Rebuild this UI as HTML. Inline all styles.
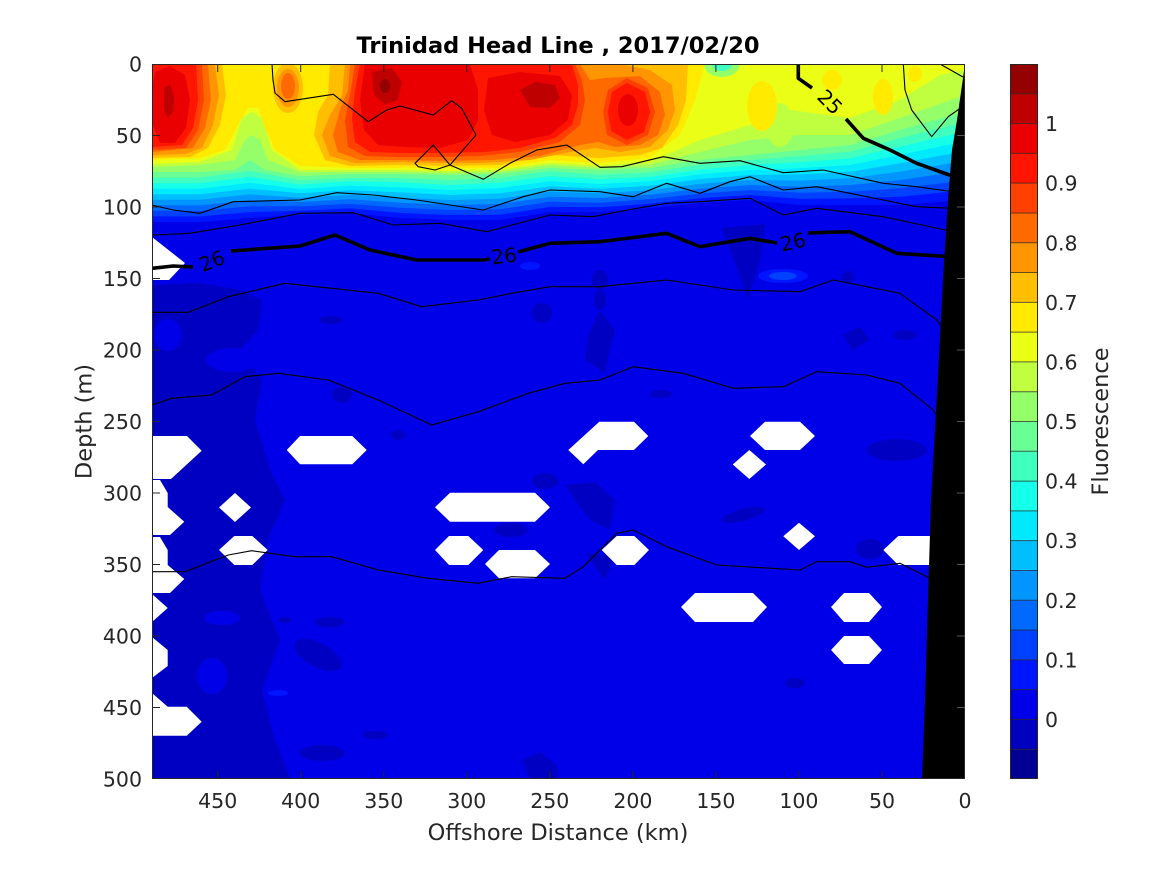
<!DOCTYPE html>
<html>
<head>
<meta charset="utf-8">
<style>
html,body{margin:0;padding:0;background:#fff;}
svg{display:block;}
text{font-family:"DejaVu Sans","Liberation Sans",sans-serif;}
</style>
</head>
<body>
<svg width="1167" height="875" viewBox="0 0 1167 875" xmlns="http://www.w3.org/2000/svg">
<defs>
<clipPath id="pc"><rect x="152" y="64" width="813" height="715"/></clipPath>
</defs>
<rect x="0" y="0" width="1167" height="875" fill="#fff"/>

<g clip-path="url(#pc)">
<!-- base deep blue -->
<rect x="152" y="64" width="813" height="715" fill="rgb(0,0,232)"/>

<!-- dark deep patches -->
<g fill="rgb(0,0,195)">
<path d="M152,285 L200,283 L240,290 L262,300 L258,330 L240,350 L262,380 L255,420 L270,470 L285,500 L268,540 L260,590 L280,640 L262,690 L275,740 L290,778 L152,778 Z"/>
<ellipse cx="318" cy="655" rx="26" ry="12" transform="rotate(28 318 655)"/>
<ellipse cx="330" cy="622" rx="15" ry="5"/>
<ellipse cx="322" cy="753" rx="23" ry="8"/>
<ellipse cx="375" cy="735" rx="13" ry="4"/>
<path d="M522,760 L540,752 L556,765 L558,778 L530,778 Z"/>
<ellipse cx="285" cy="620" rx="7" ry="3"/>
<path d="M722,228 L765,224 L760,260 L748,300 L735,262 Z"/>
<ellipse cx="600" cy="280" rx="8" ry="10"/>
<ellipse cx="848" cy="277" rx="6" ry="6"/>
<path d="M600,310 L615,330 L610,350 L605,373 L585,360 L588,335 Z"/>
<path d="M843,335 L860,327 L870,340 L852,350 Z"/>
<ellipse cx="905" cy="335" rx="12" ry="5"/>
<ellipse cx="897" cy="450" rx="30" ry="11"/>
<path d="M565,485 L595,482 L615,500 L610,530 L590,520 L575,500 Z"/>
<ellipse cx="743" cy="515" rx="22" ry="6" transform="rotate(-15 743 515)"/>
<ellipse cx="661" cy="394" rx="11" ry="4"/>
<path d="M585,553 L615,556 L605,580 Z"/>
<ellipse cx="870" cy="549" rx="14" ry="10"/>
<ellipse cx="331" cy="320" rx="12" ry="4"/>
<ellipse cx="342" cy="395" rx="10" ry="8"/>
<ellipse cx="398" cy="435" rx="7" ry="5"/>
<ellipse cx="542" cy="313" rx="10" ry="10"/>
<ellipse cx="545" cy="481" rx="13" ry="8"/>
<ellipse cx="511" cy="530" rx="17" ry="7"/>
<ellipse cx="795" cy="683" rx="10" ry="5"/>
<ellipse cx="600" cy="300" rx="6" ry="10"/>
</g>
<g fill="rgb(0,0,232)">
<ellipse cx="212" cy="676" rx="15" ry="18"/>
<ellipse cx="222" cy="618" rx="18" ry="7"/>
<ellipse cx="168" cy="335" rx="14" ry="16"/>
<ellipse cx="232" cy="360" rx="26" ry="12"/>
</g>
<g fill="rgb(0,21,255)">
<ellipse cx="783" cy="276" rx="25" ry="7"/>
<ellipse cx="530" cy="266" rx="10" ry="4"/>
<ellipse cx="278" cy="693" rx="10" ry="3"/>
</g>
<ellipse cx="783" cy="276" rx="14" ry="4" fill="rgb(0,64,255)"/>

<!-- stratified bands -->
<path fill="rgb(0,21,255)" d="M152,64 L965,64 L965,200 L900,205 L850,205 L800,205 L750,200 L700,203 L650,208 L600,212 L550,212 L500,220 L450,220 L400,218 L350,213 L300,215 L250,218 L200,222 L152,222 Z"/>
<path fill="rgb(0,64,255)" d="M152,64 L965,64 L965,190.2 L900,196.7 L850,198.3 L800,198.9 L750,195 L700,198.2 L650,203.6 L600,207.3 L550,206.9 L500,214.7 L450,215 L400,212.9 L350,208.4 L300,210.7 L250,212.1 L200,216.4 L152,216.4 Z"/>
<path fill="rgb(0,106,255)" d="M152,64 L965,64 L965,180.4 L900,188.3 L850,191.7 L800,192.8 L750,190 L700,193.5 L650,199.1 L600,202.7 L550,201.8 L500,209.3 L450,210 L400,207.8 L350,203.9 L300,206.3 L250,206.2 L200,210.9 L152,210.9 Z"/>
<path fill="rgb(0,149,255)" d="M152,64 L965,64 L965,170.7 L900,180 L850,185 L800,186.7 L750,185 L700,188.7 L650,194.7 L600,198 L550,196.7 L500,204 L450,205 L400,202.7 L350,199.3 L300,202 L250,200.3 L200,205.3 L152,205.3 Z"/>
<path fill="rgb(0,191,255)" d="M152,64 L965,64 L965,160.9 L900,171.7 L850,178.3 L800,180.6 L750,180 L700,183.9 L650,190.2 L600,193.3 L550,191.6 L500,198.7 L450,200 L400,197.6 L350,194.8 L300,197.7 L250,194.4 L200,199.8 L152,199.8 Z"/>
<path fill="rgb(0,234,255)" d="M152,64 L965,64 L965,151.1 L900,163.3 L850,171.7 L800,174.4 L750,175 L700,179.1 L650,185.8 L600,188.7 L550,186.4 L500,193.3 L450,195 L400,192.4 L350,190.2 L300,193.3 L250,188.6 L200,194.2 L152,194.2 Z"/>
<path fill="rgb(21,255,234)" d="M152,64 L965,64 L965,141.3 L900,155 L850,165 L800,168.3 L750,170 L700,174.3 L650,181.3 L600,184 L550,181.3 L500,188 L450,190 L400,187.3 L350,185.7 L300,189 L250,182.7 L200,188.7 L152,188.7 Z"/>
<path fill="rgb(64,255,191)" d="M152,64 L965,64 L965,131.6 L900,146.7 L850,158.3 L800,162.2 L750,165 L700,169.6 L650,176.9 L600,179.3 L550,176.2 L500,182.7 L450,185 L400,182.2 L350,181.1 L300,184.7 L250,176.8 L200,183.1 L152,183.1 Z"/>
<path fill="rgb(106,255,149)" d="M152,64 L965,64 L965,121.8 L900,138.3 L850,151.7 L800,156.1 L750,160 L700,164.8 L650,172.4 L600,174.7 L550,171.1 L500,178 L450,180 L400,178 L350,178 L300,180.3 L250,170.9 L200,177.6 L152,177.6 Z"/>
<path fill="rgb(149,255,106)" d="M152,64 L965,64 L965,112 L900,130 L850,145 L800,150 L750,155 L700,160 L650,168 L600,170 L550,168 L500,174 L450,175 L400,174 L350,174 L300,176 L265,170 L250,160 L235,170 L200,172 L152,172 Z"/>
<path fill="rgb(191,255,64)" d="M152,64 L965,64 L965,95 L900,118 L850,135 L800,135 L750,140 L700,152 L650,165 L600,168 L550,165 L500,172 L450,173 L400,172 L350,172 L300,172 L268,160 L260,140 L252,135 L245,140 L235,160 L200,165 L152,167 Z"/>
<path fill="rgb(234,255,21)" d="M152,64 L965,64 L965,70 L940,75 L900,100 L850,118 L790,110 L750,125 L700,140 L650,162 L600,166 L550,163 L500,170 L450,171 L400,170 L350,170 L300,170 L272,150 L262,118 L252,112 L242,118 L232,150 L200,162 L152,164 Z"/>
<!-- small green patch at top -->
<ellipse cx="722" cy="64" rx="18" ry="13" fill="rgb(149,255,106)"/>
<ellipse cx="722" cy="64" rx="10" ry="7" fill="rgb(64,255,191)"/>
<ellipse cx="780" cy="125" rx="14" ry="22" fill="rgb(191,255,64)"/>

<!-- yellow -->
<g fill="rgb(255,234,0)">
<path d="M152,64 L705,64 L695,100 L680,135 L650,158 L600,163 L550,160 L500,168 L450,168 L400,168 L350,168 L300,166 L275,150 L266,130 L258,108 L248,108 L238,125 L225,150 L200,158 L152,160 Z"/>
<ellipse cx="762" cy="106" rx="15" ry="25"/>
<ellipse cx="832" cy="80" rx="10" ry="10"/>
<ellipse cx="883" cy="97" rx="10" ry="18"/>
<ellipse cx="915" cy="74" rx="7" ry="8"/>
</g>
<!-- oranges -->
<g fill="rgb(255,191,0)">
<path d="M152,64 L222,64 L226,95 L220,125 L208,148 L190,157 L152,158 Z"/>
<ellipse cx="288" cy="88" rx="15" ry="25"/>
<path d="M330,64 L688,64 L686,100 L678,125 L662,148 L640,155 L600,158 L550,155 L500,165 L450,166 L400,165 L350,166 L325,160 L314,135 L318,112 L328,95 Z"/>
</g>
<g fill="rgb(255,149,0)">
<path d="M152,64 L215,64 L219,95 L213,125 L202,148 L185,154 L152,155 Z"/>
<ellipse cx="288" cy="88" rx="11" ry="19"/>
<path d="M345,64 L620,64 L650,70 L672,85 L675,110 L668,130 L650,147 L620,152 L595,148 L570,152 L530,160 L480,163 L440,163 L400,162 L355,163 L330,156 L322,135 L330,115 L342,95 Z"/>
</g>
<g fill="rgb(255,106,0)">
<path d="M152,64 L208,64 L211,100 L205,128 L193,148 L152,152 Z"/>
<ellipse cx="288" cy="86" rx="7" ry="13"/>
<path d="M350,64 L580,64 L590,80 L605,78 L640,76 L660,92 L665,115 L658,135 L640,145 L615,147 L598,142 L580,145 L540,156 L490,160 L440,161 L400,160 L360,160 L338,152 L333,135 L340,110 L348,90 Z"/>
</g>
<g fill="rgb(255,64,0)">
<path d="M152,64 L202,64 L204,100 L198,130 L186,148 L152,150 Z"/>
<path d="M355,64 L575,64 L582,80 L585,100 L580,125 L560,142 L520,152 L480,156 L440,157 L400,157 L365,156 L348,147 L345,120 L350,95 Z"/>
<path d="M603,112 L608,90 L627,78 L648,88 L655,112 L648,135 L627,145 L607,135 Z"/>
</g>
<g fill="rgb(255,21,0)">
<path d="M152,64 L196,64 L198,100 L193,128 L182,145 L152,147 Z"/>
<path d="M360,64 L572,64 L578,85 L578,105 L572,125 L555,138 L520,148 L485,152 L445,153 L405,153 L370,152 L355,142 L352,118 L355,90 Z"/>
<path d="M608,112 L612,92 L627,83 L645,92 L650,112 L644,132 L627,140 L611,131 Z"/>
</g>
<g fill="rgb(234,0,0)">
<path d="M365,64 L470,64 L478,90 L478,120 L468,140 L440,148 L405,147 L378,145 L364,130 L360,100 Z"/>
<path d="M488,78 L520,72 L560,76 L572,95 L568,120 L550,135 L515,142 L492,135 L484,110 Z"/>
<ellipse cx="628" cy="110" rx="10" ry="16"/>
<path d="M155,72 L170,66 L185,75 L190,100 L186,128 L175,143 L160,143 L153,125 L152,90 Z"/>
</g>
<g fill="rgb(191,0,0)">
<path d="M372,72 L392,68 L402,82 L398,100 L385,104 L374,95 Z"/>
<path d="M520,90 L535,82 L555,85 L560,98 L550,108 L530,107 Z"/>
<path d="M164,88 L170,84 L174,95 L173,112 L168,118 L164,110 Z"/>
</g>
<ellipse cx="385" cy="86" rx="5" ry="7" fill="rgb(149,0,0)"/>

<!-- NaN (white) regions -->
<g fill="#fff">
<path d="M152,237 L185,263 L169,280 L152,280 Z"/>
<path d="M152,436 L187,436 L201.7,450.7 L171,479 L152,479 Z"/>
<path d="M286.7,450 L300,436 L352.3,436 L366.7,450 L352.3,464.3 L300,464.3 Z"/>
<path d="M152,480 L160,480 L167.7,493 L167.7,507 L184.3,521.7 L170,535 L152,535 Z"/>
<path d="M219,507.5 L235,493 L251,507.5 L235,522 Z"/>
<path d="M435,507.3 L450,492.7 L535,492.7 L550,507.3 L535,521.7 L450,521.7 Z"/>
<path d="M152,537 L160,537 L167.7,550 L167.7,565 L184.3,579 L170,593 L152,593 Z"/>
<path d="M219,550 L234.3,536 L252.3,536 L267.7,550 L252.3,565 L234.3,565 Z"/>
<path d="M435,550 L449,536 L468.3,536 L483.3,550 L468.3,565 L449,565 Z"/>
<path d="M485,564 L499,550 L535,550 L550,564 L535,578.3 L499,578.3 Z"/>
<path d="M152,594 L167.7,608 L152,622 Z"/>
<path d="M152,637 L167.7,650 L167.7,666 L152,678 Z"/>
<path d="M152,693 L167.7,706.7 L186.7,706.7 L201.7,721.7 L186.7,735.7 L152,735.7 Z"/>
<path d="M568.3,450 L599.3,421.7 L634,421.7 L648.3,436 L634,450 L598,450 L583.3,464.3 Z"/>
<path d="M750,436 L765,421.7 L800,421.7 L815,436 L800,450 L765,450 Z"/>
<path d="M732.7,464.5 L749.3,450 L766,464.5 L749.3,479 Z"/>
<path d="M601.7,550 L616.7,536 L634.3,536 L649,550 L634.3,565 L616.7,565 Z"/>
<path d="M783.3,536.3 L799,522.7 L815,536.3 L799,550 Z"/>
<path d="M883.3,550 L898.3,536 L940,536 L940,565 L898.3,565 Z"/>
<path d="M681,607 L695,593 L753,593 L767,607 L753,622 L695,622 Z"/>
<path d="M831,607 L844,593 L869,593 L882,607 L869,622 L844,622 Z"/>
<path d="M831,650 L844,636 L869,636 L882,650 L869,664 L844,664 Z"/>
</g>

<!-- thin contour lines -->
<g fill="none" stroke="#000" stroke-width="1.1" stroke-linejoin="round">
<polyline points="272,64 273,80 275,93 285,101.7 333.3,94.3 368.3,121.7 386.7,110 400,106 433.3,115 451.7,100.7 461.7,108.3 476,135 450,165 435,170 418.3,166.7 415,163.3 433.3,145 450,165 483.3,179.3 510,163.3 536.7,150 556.7,146.7 566.7,145 600,167.3 621.7,166.7 663.3,156.7 700,163.3 740,160.7 783.3,172.7 823.3,170 883.3,183.3 916.7,186.7 955,192"/>
<polyline points="903.3,64 905,90 911.7,110 931.7,136.7 948.3,116.7 962,107"/>
<polyline points="940,64 963,77"/>
<polyline points="152,205 173.3,210 200,213.3 233.3,201.7 300,200 336.7,192.7 373.3,195 416.7,200 483.3,210 523.3,196.7 550,190 600,191.7 633.3,196.7 666.7,183.3 700,193.3 730,181.7 750,176.7 783.3,190 816.7,186.7 850,193.3 883.3,200 916.7,206.7 952,208.3"/>
<polyline points="152,235 190,233.3 240,225 300,213.3 353.3,212.7 393.3,225 440,223.3 486.7,231.7 550,215 593,216.7 633,209 666.7,203.3 700,201.7 750,198.3 783.3,215 816.7,208.3 883.3,216.7 950,231"/>
<polyline points="152,312.3 188.3,312.3 228.3,296.7 285,283.3 378.3,293.3 421.7,306.7 478.3,300 511.7,293.3 550,286.7 600,286.7 666.7,280 733.3,290 800,291.7 833.3,280 900,293.3 936.7,320 946,332"/>
<polyline points="152,405 171.7,398.3 211.7,395 245,376.7 278.3,373.3 328.3,380 378.3,400 431.7,425 478.3,411.7 528.3,393.3 565,383.3 600,380 633.3,366.7 683.3,373.3 733.3,388.3 783.3,386.7 816.7,371.7 866.7,375 900,383.3 933.3,410 940,420"/>
<polyline points="152,571.7 185,571.7 228.3,555 251.7,550.7 295,556.7 331.7,556.7 378.3,570 428.3,578.3 478.3,583.3 511.7,576.7 565,578.3 583.3,566.7 616.7,533.3 633.3,530 666.7,546.7 716.7,565 800,570 816.7,561.7 850,561.7 866.7,567.3 900,563.3 933.3,580"/>
</g>

<!-- thick contour lines -->
<g fill="none" stroke="#000" stroke-width="3.6" stroke-linejoin="round">
<polyline points="798.3,64 798.3,78.3 812,88"/>
<polyline points="846,119 863.3,138.3 890,150 916.7,163.3 955,177"/>
<polyline points="152,268.3 173.3,266 193,267"/>
<polyline points="231,251 300,246 335,235 370,250 416.7,260 483.3,260 490,259"/>
<polyline points="518,252 550,243.3 600,241.7 666.7,233.3 700,246.7 750,238.3 777,243"/>
<polyline points="808,233 816.7,232.7 850,231.7 896.7,253.3 955,257"/>
</g>
<g font-size="20" fill="#000" text-anchor="middle" dominant-baseline="central">
<text x="212" y="261" transform="rotate(-22 212 261)">26</text>
<text x="504" y="256" transform="rotate(-7 504 256)">26</text>
<text x="793" y="242" transform="rotate(-13 793 242)">26</text>
<text x="830" y="102" transform="rotate(45 830 102)">25</text>
</g>

<!-- bathymetry -->
<path d="M965,64 L963,78 L957,120 L952,150 L948,200 L943,280 L936,413 L931,500 L928,600 L925,700 L922,779 L965,779 Z" fill="#000"/>
</g>

<!-- axes frame and ticks -->
<g stroke="#262626" stroke-width="1" fill="none">
<rect x="152.5" y="64.5" width="812" height="714"/>
<path d="M217.7,779 V771 M300.7,779 V771 M383.8,779 V771 M466.8,779 V771 M549.8,779 V771 M632.9,779 V771 M715.9,779 V771 M798.9,779 V771 M882,779 V771
M217.7,64 V72 M300.7,64 V72 M383.8,64 V72 M466.8,64 V72 M549.8,64 V72 M632.9,64 V72 M715.9,64 V72 M798.9,64 V72 M882,64 V72
M152,135.5 H160 M152,207 H160 M152,278.5 H160 M152,350 H160 M152,421.5 H160 M152,493 H160 M152,564.5 H160 M152,636 H160 M152,707.5 H160"/>
</g>
<g stroke="#555" stroke-width="1" fill="none">
<path d="M965,135.5 H957 M965,207 H957 M965,278.5 H957 M965,350 H957 M965,421.5 H957 M965,493 H957 M965,564.5 H957 M965,636 H957 M965,707.5 H957"/>
</g>

<!-- tick labels -->
<g font-size="20.5" fill="#262626" text-anchor="middle">
<text x="217.7" y="808">450</text>
<text x="300.7" y="808">400</text>
<text x="383.8" y="808">350</text>
<text x="466.8" y="808">300</text>
<text x="549.8" y="808">250</text>
<text x="632.9" y="808">200</text>
<text x="715.9" y="808">150</text>
<text x="798.9" y="808">100</text>
<text x="882" y="808">50</text>
<text x="965" y="808">0</text>
</g>
<g font-size="20.5" fill="#262626" text-anchor="end">
<text x="142" y="71.5">0</text>
<text x="142" y="143">50</text>
<text x="142" y="214.5">100</text>
<text x="142" y="286">150</text>
<text x="142" y="357.5">200</text>
<text x="142" y="429">250</text>
<text x="142" y="500.5">300</text>
<text x="142" y="572">350</text>
<text x="142" y="643.5">400</text>
<text x="142" y="715">450</text>
<text x="142" y="786.5">500</text>
</g>

<!-- axis labels & title -->
<text x="558" y="840" font-size="22.5" fill="#262626" text-anchor="middle">Offshore Distance (km)</text>
<text x="0" y="0" font-size="22.5" fill="#262626" text-anchor="middle" transform="translate(91.5 421.5) rotate(-90)">Depth (m)</text>
<text x="558" y="53" font-size="22.5" font-weight="bold" fill="#000" text-anchor="middle">Trinidad Head Line , 2017/02/20</text>

<!-- colorbar -->
<g>
<rect x="1010" y="64" width="28" height="29.8" fill="rgb(149,0,0)"/>
<rect x="1010" y="93.79" width="28" height="29.8" fill="rgb(191,0,0)"/>
<rect x="1010" y="123.58" width="28" height="29.8" fill="rgb(234,0,0)"/>
<rect x="1010" y="153.38" width="28" height="29.8" fill="rgb(255,21,0)"/>
<rect x="1010" y="183.17" width="28" height="29.8" fill="rgb(255,64,0)"/>
<rect x="1010" y="212.96" width="28" height="29.8" fill="rgb(255,106,0)"/>
<rect x="1010" y="242.75" width="28" height="29.8" fill="rgb(255,149,0)"/>
<rect x="1010" y="272.54" width="28" height="29.8" fill="rgb(255,191,0)"/>
<rect x="1010" y="302.33" width="28" height="29.8" fill="rgb(255,234,0)"/>
<rect x="1010" y="332.13" width="28" height="29.8" fill="rgb(234,255,21)"/>
<rect x="1010" y="361.92" width="28" height="29.8" fill="rgb(191,255,64)"/>
<rect x="1010" y="391.71" width="28" height="29.8" fill="rgb(149,255,106)"/>
<rect x="1010" y="421.5" width="28" height="29.8" fill="rgb(106,255,149)"/>
<rect x="1010" y="451.29" width="28" height="29.8" fill="rgb(64,255,191)"/>
<rect x="1010" y="481.08" width="28" height="29.8" fill="rgb(21,255,234)"/>
<rect x="1010" y="510.88" width="28" height="29.8" fill="rgb(0,234,255)"/>
<rect x="1010" y="540.67" width="28" height="29.8" fill="rgb(0,191,255)"/>
<rect x="1010" y="570.46" width="28" height="29.8" fill="rgb(0,149,255)"/>
<rect x="1010" y="600.25" width="28" height="29.8" fill="rgb(0,106,255)"/>
<rect x="1010" y="630.04" width="28" height="29.8" fill="rgb(0,64,255)"/>
<rect x="1010" y="659.83" width="28" height="29.8" fill="rgb(0,21,255)"/>
<rect x="1010" y="689.63" width="28" height="29.8" fill="rgb(0,0,232)"/>
<rect x="1010" y="719.42" width="28" height="29.8" fill="rgb(0,0,191)"/>
<rect x="1010" y="749.21" width="28" height="29.79" fill="rgb(0,0,149)"/>
<path stroke="#222" stroke-opacity="0.7" stroke-width="1" fill="none" d="M1010,93.79H1038M1010,123.58H1038M1010,153.38H1038M1010,183.17H1038M1010,212.96H1038M1010,242.75H1038M1010,272.54H1038M1010,302.33H1038M1010,332.13H1038M1010,361.92H1038M1010,391.71H1038M1010,421.5H1038M1010,451.29H1038M1010,481.08H1038M1010,510.88H1038M1010,540.67H1038M1010,570.46H1038M1010,600.25H1038M1010,630.04H1038M1010,659.83H1038M1010,689.63H1038M1010,719.42H1038M1010,749.21H1038"/>
<rect x="1010.5" y="64.5" width="27" height="714" fill="none" stroke="#262626" stroke-width="1"/>
</g>
<g font-size="20.5" fill="#262626">
<text x="1045" y="131">1</text>
<text x="1045" y="190.7">0.9</text>
<text x="1045" y="250.3">0.8</text>
<text x="1045" y="309.8">0.7</text>
<text x="1045" y="369.4">0.6</text>
<text x="1045" y="429">0.5</text>
<text x="1045" y="488.6">0.4</text>
<text x="1045" y="548.2">0.3</text>
<text x="1045" y="607.8">0.2</text>
<text x="1045" y="667.3">0.1</text>
<text x="1045" y="727">0</text>
</g>
<text x="0" y="0" font-size="22.5" fill="#262626" text-anchor="middle" transform="translate(1108 421.5) rotate(-90)">Fluorescence</text>
</svg>
</body>
</html>
